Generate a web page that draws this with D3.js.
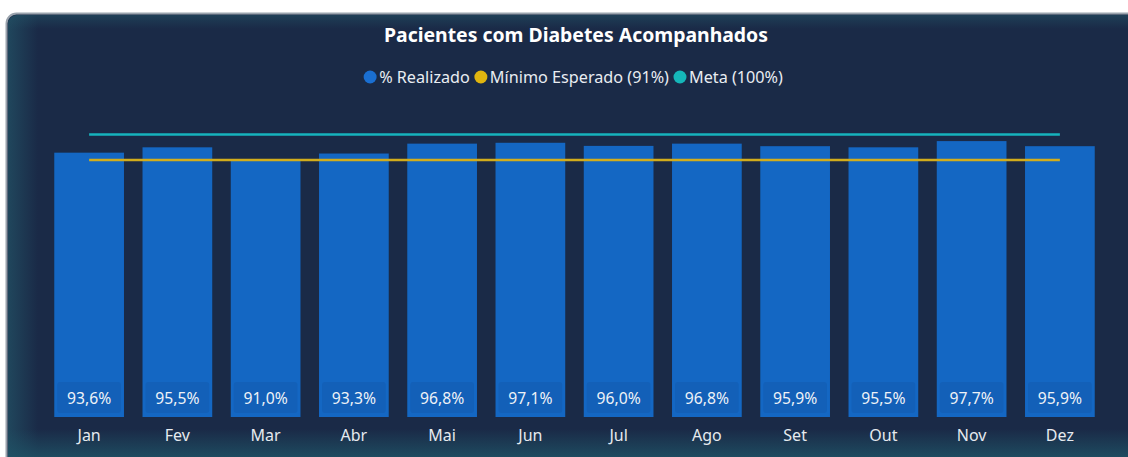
<!DOCTYPE html>
<html>
<head>
<meta charset="utf-8">
<script src="https://cdn.jsdelivr.net/npm/d3@7"></script>
<style>
  body { margin: 0; background: #ffffff; overflow: hidden; }
  svg { display: block; font-family: "Noto Sans", "Open Sans", sans-serif; }
</style>
</head>
<body>
<script>
// data
var meses = ["Jan", "Fev", "Mar", "Abr", "Mai", "Jun", "Jul", "Ago", "Set", "Out", "Nov", "Dez"]
var realizado = [93.6, 95.5, 91.0, 93.3, 96.8, 97.1, 96.0, 96.8, 95.9, 95.5, 97.7, 95.9]
var minimoEsperado = 91
var meta = 100
var legendItems = ["% Realizado", "Mínimo Esperado (91%)", "Meta (100%)"]

var W = 1128, H = 457

var svg = d3.select('body')
  .append('svg')
  .attr('width', W)
  .attr('height', H)

var defs = svg.append('defs')

// edge glow of the card
var gl = defs.append('linearGradient').attr('id', 'glowL').attr('x1', 0).attr('x2', 1).attr('y1', 0).attr('y2', 0)
gl.append('stop').attr('offset', 0).attr('stop-color', '#235366').attr('stop-opacity', 0.7)
gl.append('stop').attr('offset', 1).attr('stop-color', '#235366').attr('stop-opacity', 0)
var gt = defs.append('linearGradient').attr('id', 'glowT').attr('x1', 0).attr('x2', 0).attr('y1', 0).attr('y2', 1)
gt.append('stop').attr('offset', 0).attr('stop-color', '#235366').attr('stop-opacity', 0.5)
gt.append('stop').attr('offset', 1).attr('stop-color', '#235366').attr('stop-opacity', 0)
var gb = defs.append('linearGradient').attr('id', 'glowB').attr('x1', 0).attr('x2', 0).attr('y1', 1).attr('y2', 0)
gb.append('stop').attr('offset', 0).attr('stop-color', '#1f5366').attr('stop-opacity', 0.8)
gb.append('stop').attr('offset', 1).attr('stop-color', '#1f5366').attr('stop-opacity', 0)
defs.append('clipPath').attr('id', 'card')
  .append('rect').attr('x', 8).attr('y', 15).attr('width', W + 20).attr('height', H + 20).attr('rx', 9)

// card
svg.append('rect')
  .attr('x', 6.5).attr('y', 13.5)
  .attr('width', W + 20).attr('height', H + 20)
  .attr('rx', 10)
  .attr('fill', '#1a2a47')
  .attr('stroke', '#9aa3ad')
  .attr('stroke-width', 2)

var glow = svg.append('g').attr('clip-path', 'url(#card)')
glow.append('rect').attr('x', 8).attr('y', 15).attr('width', 30).attr('height', H).attr('fill', 'url(#glowL)')
glow.append('rect').attr('x', 8).attr('y', 15).attr('width', W).attr('height', 14).attr('fill', 'url(#glowT)')
glow.append('rect').attr('x', 8).attr('y', H - 28).attr('width', W).attr('height', 28).attr('fill', 'url(#glowB)')

// scales
var x = d3.scaleBand()
  .domain(meses)
  .range([45, 1104])
  .paddingInner(0.21)
  .paddingOuter(0.105)

var y = d3.scaleLinear()
  .domain([0, 100])
  .range([417, 134.6])

// title
svg.append('text')
  .attr('x', 576).attr('y', 42)
  .attr('text-anchor', 'middle')
  .attr('fill', '#ffffff')
  .attr('font-weight', 'bold')
  .attr('font-size', 19.4)
  .text('Pacientes com Diabetes Acompanhados')

// legend
var legColors = ['#1a6fd2', '#e0b50f', '#15b6b9']
var leg = svg.append('g')
var lx = 0
legendItems.forEach(function (t, i) {
  var g = leg.append('g').attr('transform', 'translate(' + lx + ',0)')
  g.append('circle').attr('cx', 7).attr('cy', 0).attr('r', 6.5).attr('fill', legColors[i])
  var txt = g.append('text')
    .attr('x', 16).attr('y', 5.8)
    .attr('fill', '#e9edf2')
    .attr('font-size', 16.2)
    .text(t)
  lx += 16 + txt.node().getComputedTextLength() + 4
})
leg.attr('transform', 'translate(' + (573 - (lx - 4) / 2) + ',77)')

// bars
svg.append('g')
  .selectAll('rect')
  .data(realizado)
  .join('rect')
  .attr('x', (d, i) => x(meses[i]))
  .attr('y', d => y(d))
  .attr('width', x.bandwidth())
  .attr('height', d => y(0) - y(d))
  .attr('fill', '#1467c3')

// value label boxes
svg.append('g')
  .selectAll('rect')
  .data(realizado)
  .join('rect')
  .attr('x', (d, i) => x(meses[i]) + 3)
  .attr('y', 382)
  .attr('width', x.bandwidth() - 6)
  .attr('height', 31)
  .attr('rx', 3)
  .attr('fill', '#1360b8')

svg.append('g')
  .selectAll('text')
  .data(realizado)
  .join('text')
  .attr('x', (d, i) => x(meses[i]) + x.bandwidth() / 2)
  .attr('y', 404)
  .attr('text-anchor', 'middle')
  .attr('fill', '#eef2f7')
  .attr('font-size', 15.7)
  .text(d => d3.format('.1f')(d).replace('.', ',') + '%')

// reference lines from first to last bar center
var x0 = x(meses[0]) + x.bandwidth() / 2
var x1 = x(meses[meses.length - 1]) + x.bandwidth() / 2
svg.append('line')
  .attr('x1', x0).attr('x2', x1)
  .attr('y1', y(meta)).attr('y2', y(meta))
  .attr('stroke', '#16b3bd').attr('stroke-width', 2.5)
svg.append('line')
  .attr('x1', x0).attr('x2', x1)
  .attr('y1', y(minimoEsperado)).attr('y2', y(minimoEsperado))
  .attr('stroke', '#d2ad1c').attr('stroke-width', 2.5)

// x axis labels
var xAxis = d3.axisBottom(x).tickSize(0).tickPadding(13)
var ax = svg.append('g')
  .attr('transform', 'translate(0,417)')
  .call(xAxis)
ax.select('.domain').remove()
ax.selectAll('text')
  .attr('fill', '#e6eaef')
  .attr('font-size', 16)
  .attr('font-family', '"Noto Sans", sans-serif')
</script>
</body>
</html>
